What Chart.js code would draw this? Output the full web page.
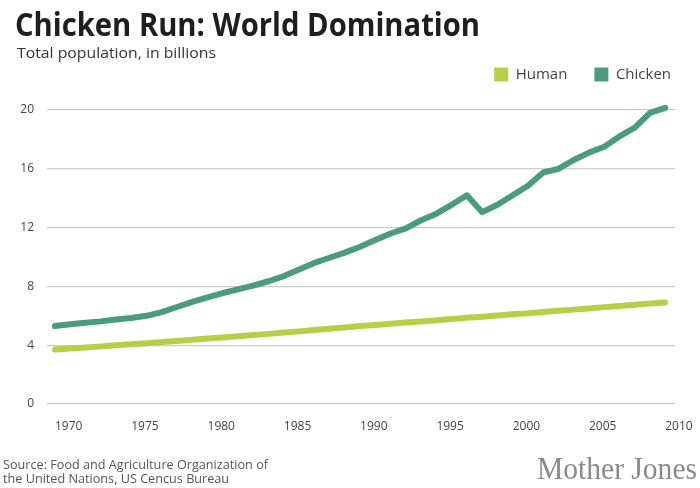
<!DOCTYPE html>
<html>
<head>
<meta charset="utf-8">
<script src="https://cdn.jsdelivr.net/npm/chart.js@4"></script>
<style>
  html, body { margin: 0; padding: 0; background: #fff; }
  #wrap { position: relative; width: 700px; height: 488px; overflow: hidden; }
  #c { position: absolute; left: 0; top: 0; }
  .txt { position: absolute; white-space: nowrap; transform-origin: 0 0; }
  #title { left: 15px; top: 8px; font: 700 32px/32px "Open Sans", sans-serif; color: #1e1e1e; }
  #subtitle { left: 17px; top: 45px; font: 400 15px/15px "Open Sans", sans-serif; color: #333; }
  #source { left: 3px; top: 458px; font: 400 12px/14px "Open Sans", sans-serif; color: #555; }
  #logo { left: 537px; top: 452px; font: 400 32px/32px "Liberation Serif", serif; color: #8a8a8a; }
</style>
</head>
<body>
<div id="wrap">
  <canvas id="c" width="700" height="488"></canvas>
  <div class="txt" id="title" data-w="465">Chicken Run: World Domination</div>
  <div class="txt" id="subtitle" data-w="199">Total population, in billions</div>
  <div class="txt" id="source" data-w="265">Source: Food and Agriculture Organization of<br>the United Nations, US Cencus Bureau</div>
  <div class="txt" id="logo" data-w="160">Mother Jones</div>
</div>
<script>
// ---- data ----
const years = [1970,1971,1972,1973,1974,1975,1976,1977,1978,1979,
               1980,1981,1982,1983,1984,1985,1986,1987,1988,1989,
               1990,1991,1992,1993,1994,1995,1996,1997,1998,1999,
               2000,2001,2002,2003,2004,2005,2006,2007,2008,2009,2010];
const human = [3.70,3.78,3.85,3.92,4.00,4.07,4.14,4.22,4.29,4.37,
               4.45,4.53,4.61,4.69,4.77,4.86,4.94,5.03,5.12,5.21,
               5.30,5.38,5.46,5.54,5.62,5.70,5.78,5.86,5.94,6.02,
               6.10,6.18,6.26,6.34,6.42,6.50,6.59,6.67,6.75,6.83,6.90];
const chicken = [5.30,5.42,5.53,5.62,5.75,5.85,6.00,6.25,6.60,6.95,
                 7.25,7.55,7.80,8.05,8.35,8.70,9.15,9.60,9.95,10.30,
                 10.70,11.15,11.60,11.95,12.50,12.95,13.55,14.20,13.05,13.55,
                 14.20,14.85,15.75,16.00,16.60,17.10,17.50,18.20,18.80,19.80,20.15];
const xTicks = [1970,1975,1980,1985,1990,1995,2000,2005,2010];
const yTicks = [0,4,8,12,16,20];
const seriesNames = ['Human','Chicken'];

// fit text widths
document.querySelectorAll('.txt').forEach(el => {
  const target = +el.dataset.w;
  const w = el.getBoundingClientRect().width;
  if (w > 0) el.style.transform = 'scaleX(' + (target / w) + ')';
});

const pts = arr => years.map((y, i) => ({x: y, y: arr[i]}));

// nudge the legend box to sit where the reference has it
const legendNudge = {
  id: 'legendNudge',
  afterLayout(chart) {
    const lg = chart.legend;
    if (!lg) return;
    lg.top -= 18; lg.bottom -= 18;
    lg.left += 17; lg.right += 17;
  }
};

new Chart(document.getElementById('c'), {
  type: 'line',
  data: {
    datasets: [
      { label: seriesNames[0], data: pts(human), borderColor: '#b7cf48', backgroundColor: '#b7cf48',
        borderWidth: 6, pointRadius: 0, tension: 0, borderCapStyle: 'round', borderJoinStyle: 'round', clip: false },
      { label: seriesNames[1], data: pts(chicken), borderColor: '#4b9b80', backgroundColor: '#4b9b80',
        borderWidth: 6, pointRadius: 0, tension: 0, borderCapStyle: 'round', borderJoinStyle: 'round', clip: false }
    ]
  },
  plugins: [legendNudge],
  options: {
    responsive: false,
    animation: false,
    layout: { padding: { top: 58, left: 0, right: 19, bottom: 0 } },
    plugins: {
      tooltip: { enabled: false },
      legend: {
        position: 'top',
        align: 'end',
        labels: {
          boxWidth: 14, boxHeight: 14, padding: 27,
          color: '#444',
          font: { family: '"Open Sans", sans-serif', size: 15 },
          generateLabels: chart => Chart.defaults.plugins.legend.labels.generateLabels(chart).map(l => {
            l.fillStyle = l.strokeStyle; l.lineWidth = 0; return l;
          })
        }
      }
    },
    scales: {
      x: {
        type: 'linear',
        min: 1969.48, max: 2010.65,
        afterBuildTicks: s => { s.ticks = xTicks.map(v => ({value: v})); },
        afterFit: s => { s.height = 84; },
        grid: { display: false },
        border: { display: false },
        ticks: { align: 'start', padding: 7, color: '#444', maxRotation: 0,
                 font: { family: '"Open Sans", sans-serif', size: 12 },
                 callback: v => String(v) }
      },
      y: {
        min: 0, max: 20,
        afterBuildTicks: s => { s.ticks = yTicks.map(v => ({value: v})); },
        afterFit: s => { s.width = 47; },
        grid: { color: '#cccccc', lineWidth: 1.3, drawTicks: false },
        border: { display: false },
        ticks: { padding: 13, color: '#444', font: { family: '"Open Sans", sans-serif', size: 12 } }
      }
    }
  }
});
</script>
</body>
</html>
